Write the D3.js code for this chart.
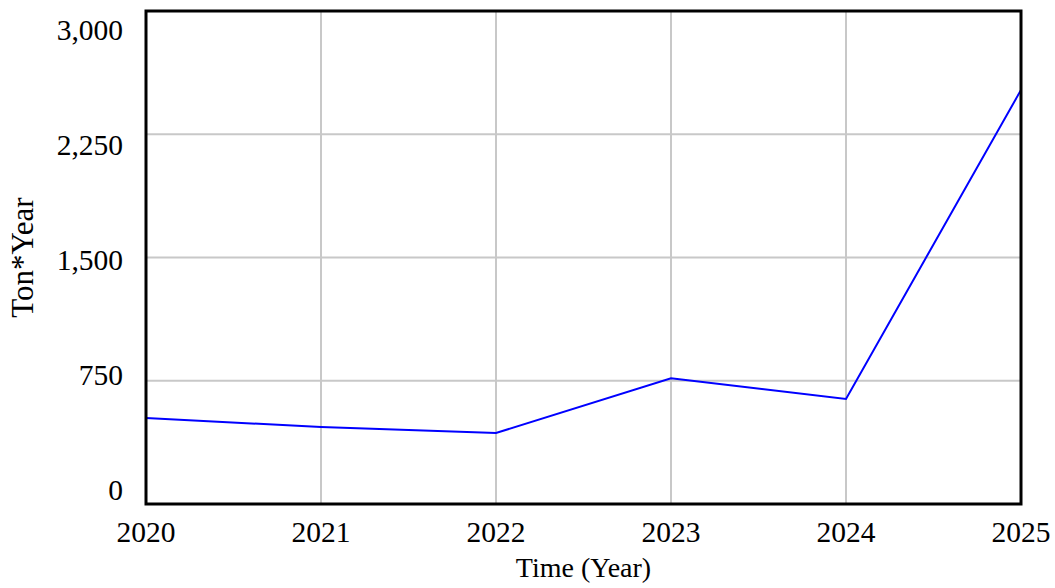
<!DOCTYPE html>
<html>
<head>
<meta charset="utf-8">
<script src="https://cdn.jsdelivr.net/npm/d3@7"></script>
<style>
  html, body { margin: 0; padding: 0; background: #fff; }
  svg { display: block; }
  text { font-family: "Liberation Serif", "Times New Roman", serif; fill: #000; }
</style>
</head>
<body>
<svg id="chart" width="1055" height="588"></svg>
<script>
const years = [2020, 2021, 2022, 2023, 2024, 2025];
const values = [523, 469, 432, 765, 639, 2520];
const yTicks = [0, 750, 1500, 2250, 3000];
const xLabel = "Time (Year)";
const yLabel = "Ton*Year";

(function () {
const svg = d3.select("#chart");
const pLeft = 146, pRight = 1021, pTop = 11, pBottom = 504;

const x = d3.scaleLinear().domain([2020, 2025]).range([pLeft, pRight]);
const y = d3.scaleLinear().domain([0, 3000]).range([pBottom, pTop]);
// tick labels are spread evenly a little inside the plot height
const yLab = d3.scaleLinear().domain([0, 3000]).range([500, 40]);

// grid
svg.append("g").selectAll("line").data(years.slice(1, -1)).join("line")
  .attr("x1", d => x(d)).attr("x2", d => x(d))
  .attr("y1", pTop).attr("y2", pBottom)
  .attr("stroke", "#c8c8c8").attr("stroke-width", 2);
svg.append("g").selectAll("line").data(yTicks.slice(1, -1)).join("line")
  .attr("x1", pLeft).attr("x2", pRight)
  .attr("y1", d => y(d)).attr("y2", d => y(d))
  .attr("stroke", "#c8c8c8").attr("stroke-width", 2);

// data line
svg.append("path")
  .datum(years.map((yr, i) => [yr, values[i]]))
  .attr("fill", "none")
  .attr("stroke", "#0000ff")
  .attr("stroke-width", 2)
  .attr("d", d3.line().x(d => x(d[0])).y(d => y(d[1])));

// frame
svg.append("rect")
  .attr("x", pLeft).attr("y", pTop)
  .attr("width", pRight - pLeft).attr("height", pBottom - pTop)
  .attr("fill", "none").attr("stroke", "#000").attr("stroke-width", 3);

// y tick labels
const fmt = d3.format(",");
svg.append("g").selectAll("text").data(yTicks).join("text")
  .attr("x", 123)
  .attr("y", d => yLab(d))
  .attr("text-anchor", "end")
  .attr("font-size", 29.5)
  .text(d => fmt(d));

// x tick labels
svg.append("g").selectAll("text").data(years).join("text")
  .attr("x", d => x(d))
  .attr("y", 542)
  .attr("text-anchor", "middle")
  .attr("font-size", 29.5)
  .text(d => d);

// axis titles
svg.append("text")
  .attr("x", (pLeft + pRight) / 2)
  .attr("y", 577)
  .attr("text-anchor", "middle")
  .attr("font-size", 28)
  .text(xLabel);

svg.append("text")
  .attr("transform", `translate(33, ${(pTop + pBottom) / 2}) rotate(-90)`)
  .attr("text-anchor", "middle")
  .attr("font-size", 31)
  .text(yLabel);
})();
</script>
</body>
</html>
